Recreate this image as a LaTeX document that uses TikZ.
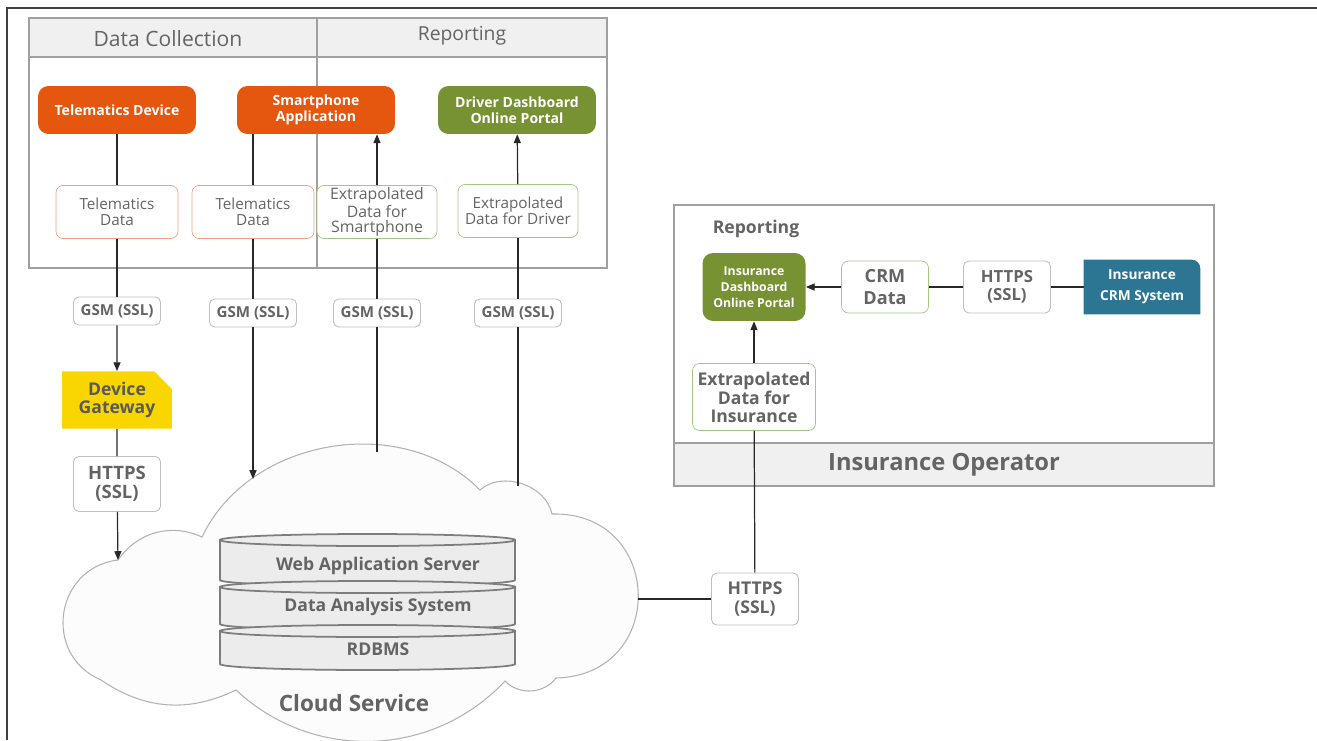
\documentclass[tikz,border=0pt]{standalone}
\usepackage{fontspec}
\setmainfont{Open Sans}
\usetikzlibrary{shapes.geometric, shapes.misc, arrows.meta, positioning, calc, backgrounds}
\definecolor{txtgray}{RGB}{100,100,100}
\definecolor{boxgray}{RGB}{190,190,190}
\definecolor{panelgray}{RGB}{160,160,160}
\definecolor{bandgray}{RGB}{240,240,240}
\definecolor{linkcol}{RGB}{40,40,40}
\definecolor{deeporange}{RGB}{229,86,14}
\definecolor{olivegreen}{RGB}{118,146,50}
\definecolor{tealblue}{RGB}{44,118,148}
\definecolor{gateyellow}{RGB}{250,214,0}
\definecolor{paleorange}{RGB}{240,160,130}
\definecolor{palegreen}{RGB}{160,200,130}
\definecolor{dbfill}{RGB}{236,236,236}
\definecolor{dbline}{RGB}{125,125,125}

\begin{document}
\begin{tikzpicture}[
    x=0.02cm, y=-0.02cm,
    panel/.style={draw=panelgray, line width=0.6pt},
    band/.style={panel, fill=bandgray},
    heading/.style={text=txtgray, font=\fontsize{11}{13}\selectfont},
    colorbox/.style={rounded corners=6pt, minimum width=3.16cm,
                     minimum height=0.96cm, align=center, text=white,
                     font=\bfseries\fontsize{8}{9}\selectfont, inner sep=1pt},
    datanode/.style={draw, rounded corners=4pt, fill=white, line width=0.4pt,
                     minimum width=2.44cm, minimum height=1.06cm, align=center,
                     text=txtgray, font=\fontsize{8.7}{9}\selectfont, inner sep=1pt},
    proto/.style={draw=boxgray, rounded corners=3pt, fill=white, line width=0.5pt,
                  minimum width=1.74cm, minimum height=0.56cm, align=center,
                  text=txtgray, font=\bfseries\fontsize{8.6}{9}\selectfont, inner sep=1pt},
    dbtext/.style={text=txtgray, font=\bfseries\fontsize{10}{12}\selectfont},
    link/.style={draw=linkcol, line width=0.7pt},
    arrow/.style={link, -{Triangle[length=5pt, width=4pt]}},
]
    \useasboundingbox (0,0) rectangle (1317,740);
    \draw[line width=1pt, black!75] (7,740) -- (7,8) -- (1317,8);

    % top panel
    \draw[panel] (29,18) rectangle (607,268);
    \draw[band] (29,18) rectangle (607,57);
    \draw[panel] (317,18) -- (317,268);
    \node[heading, font=\fontsize{12}{14}\selectfont] (hcollect) at (168,39)
        {Data Collection};
    \node[heading] (hreport) at (462,36) {Reporting};

    % insurance panel
    \draw[panel] (674,205) rectangle (1214,486);
    \draw[band] (674,443) rectangle (1214,486);
    \node[text=txtgray, font=\bfseries\fontsize{13.5}{15}\selectfont] (hoperator)
        at (944,465) {Insurance Operator};
    \node[text=txtgray, font=\bfseries\fontsize{10}{12}\selectfont] (hinsreport)
        at (756,229) {Reporting};

    % cloud
    \draw[draw=black!30, fill=black!1, line width=0.6pt]
        (101,680) to[bend left=75, looseness=1.35] (118,560)
        to[bend left=40] (202,537)
        to[bend left=55] (480,490)
        to[bend left=60] (552,514)
        to[bend left=90, looseness=1.75] (556,678)
        to[bend left=50] (505,681)
        to[bend left=45] (236,690)
        to[bend left=30] (101,680) -- cycle;
    \coordinate (cloudgw) at (118,560);
    \coordinate (cloudsmart) at (253,479);
    \coordinate (cloudexsmart) at (377,452);
    \coordinate (cloudexdrv) at (518,486);
    \coordinate (cloudins) at (638,599);
    \node[text=txtgray, font=\bfseries\fontsize{12.8}{14}\selectfont] (cloudlbl)
        at (354,703) {Cloud Service};

    % database stack
    \foreach \yt/\yb in {540/580, 587/624, 631/664}{
        \filldraw[draw=dbline, fill=dbfill, line width=1pt]
            (220,\yt) -- (220,\yb) arc[start angle=180, end angle=0,
            x radius=147.5, y radius=6] -- (515,\yt) -- cycle;
        \filldraw[draw=dbline, fill=dbfill, line width=1pt]
            (367.5,\yt) ellipse[x radius=147.5, y radius=6];
    }
    \node[dbtext] (websrv) at (378,566) {Web Application Server};
    \node[dbtext] (analysis) at (378,607) {Data Analysis System};
    \node[dbtext] (rdbms) at (378,649) {RDBMS};

    % sources and portals
    \node[colorbox, fill=deeporange] (tdevice) at (117,110) {Telematics Device};
    \node[colorbox, fill=deeporange] (smartapp) at (316,110) {Smartphone\\Application};
    \node[colorbox, fill=olivegreen] (driverdash) at (517,110)
        {Driver Dashboard\\Online Portal};

    \node[datanode, draw=paleorange] (tdata1) at (117,212) {Telematics\\Data};
    \node[datanode, draw=paleorange] (tdata2) at (253,212) {Telematics\\Data};
    \node[datanode, draw=palegreen, minimum width=2.4cm,
          font=\fontsize{9}{8.6}\selectfont] (exsmart) at (377,212)
        {Extrapolated\\Data for\\Smartphone};
    \node[datanode, draw=palegreen, minimum width=2.4cm] (exdriver) at (518,211)
        {Extrapolated\\Data for Driver};

    \node[proto] (gsm1) at (117,311) {GSM (SSL)};
    \node[proto] (gsm2) at (253,313) {GSM (SSL)};
    \node[proto] (gsm3) at (377,313) {GSM (SSL)};
    \node[proto] (gsm4) at (518,313) {GSM (SSL)};

    \node[chamfered rectangle, chamfered rectangle corners=north east,
          chamfered rectangle xsep=5pt, chamfered rectangle ysep=5pt,
          fill=gateyellow, minimum width=2.2cm, minimum height=1.06cm,
          align=center, text=black!65, font=\bfseries\fontsize{10}{10.5}\selectfont,
          inner sep=1pt] (gateway) at (117,400) {Device\\Gateway};
    \node[proto, minimum height=1.1cm, font=\bfseries\fontsize{10.5}{11}\selectfont]
        (https1) at (117,484) {HTTPS\\(SSL)};

    % insurance side
    \node[colorbox, fill=olivegreen, minimum width=2.06cm, minimum height=1.36cm,
          font=\bfseries\fontsize{7}{9}\selectfont] (insdash) at (754,287)
        {Insurance\\Dashboard\\Online Portal};
    \node[datanode, draw=palegreen, minimum width=1.74cm, minimum height=1.04cm,
          font=\bfseries\fontsize{10.3}{12.5}\selectfont] (crmdata) at (885,287)
        {CRM\\Data};
    \node[proto, minimum height=1.04cm, font=\bfseries\fontsize{9.5}{10}\selectfont]
        (https2) at (1007,287) {HTTPS\\(SSL)};
    \node[minimum width=2.32cm, minimum height=1.08cm, align=center, text=white,
          font=\bfseries\fontsize{7.8}{12}\selectfont, inner sep=1pt] (crmsys)
        at (1142,287) {Insurance\\CRM System};
    \begin{scope}[on background layer]
        \fill[tealblue] (crmsys.south west) -- (crmsys.north west)
            [rounded corners=5pt] -- (crmsys.north east) [sharp corners]
            -- (crmsys.south east) -- cycle;
    \end{scope}
    \node[datanode, draw=palegreen, minimum width=2.46cm, minimum height=1.34cm,
          font=\bfseries\fontsize{10}{10}\selectfont] (exins) at (754,397)
        {Extrapolated\\Data for\\Insurance};
    \node[proto, minimum height=1.04cm, font=\bfseries\fontsize{10}{11}\selectfont]
        (https3) at (755,599) {HTTPS\\(SSL)};

    % connectors
    \draw[link] (tdevice) -- (tdata1);
    \draw[link] (tdata1) -- (gsm1);
    \draw[arrow] (gsm1) -- (gateway);
    \draw[link] (gateway) -- (https1);
    \draw[arrow] (https1) -- (cloudgw);

    \draw[link] (tdata2) -- (tdata2 |- smartapp.south);
    \draw[link] (tdata2) -- (gsm2);
    \draw[arrow] (gsm2) -- (cloudsmart);

    \draw[link] (cloudexsmart) -- (gsm3);
    \draw[link] (gsm3) -- (exsmart);
    \draw[arrow] (exsmart) -- (exsmart |- smartapp.south);

    \draw[link] (cloudexdrv) -- (gsm4);
    \draw[link] (gsm4) -- (exdriver);
    \draw[arrow] (exdriver) -- (driverdash);

    \draw[link] (cloudins) -- (https3);
    \draw[link] (https3) -- (exins);
    \draw[arrow] (exins) -- (insdash);
    \draw[arrow] (crmdata) -- (insdash);
    \draw[link] (https2) -- (crmdata);
    \draw[link] (crmsys) -- (https2);
\end{tikzpicture}
\end{document}
